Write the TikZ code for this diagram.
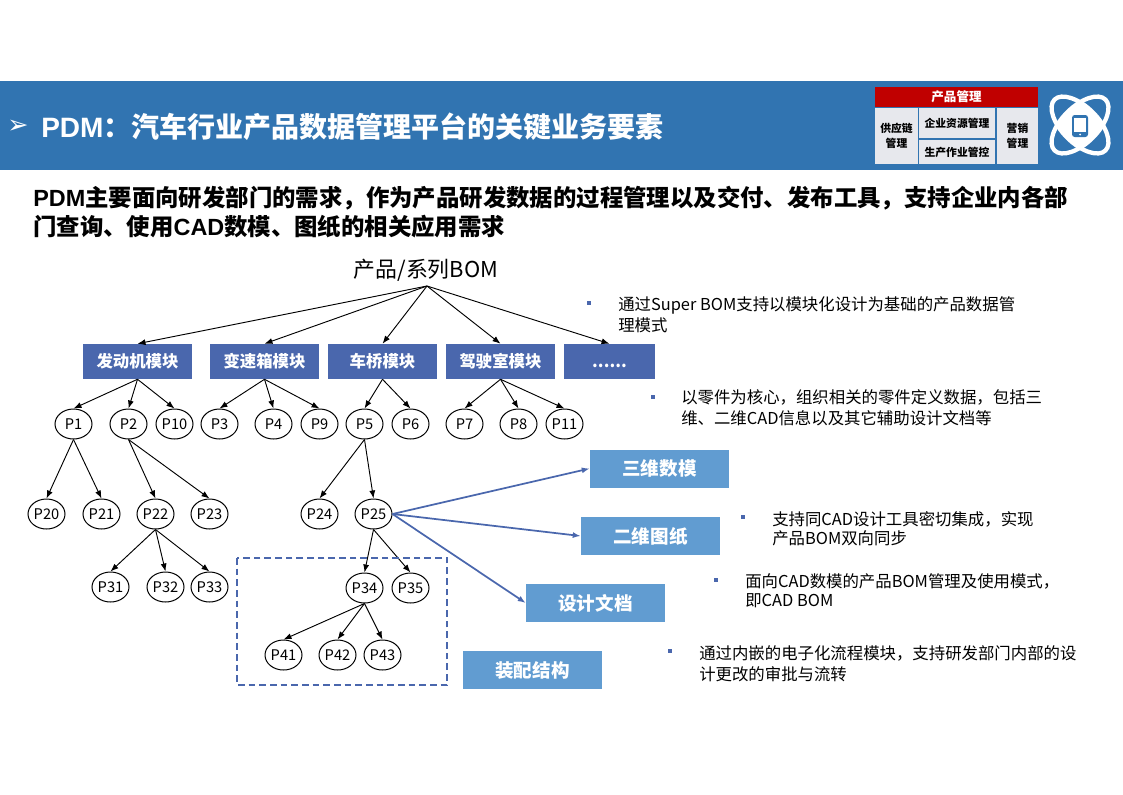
\documentclass[tikz,border=0pt]{standalone}
\usepackage{fontspec}
\usepackage{xcolor}
\setmainfont{Noto Sans CJK SC}
\newfontfamily\arialfont{Liberation Sans}
\newfontfamily\symbfont{DejaVu Sans}
\usetikzlibrary{arrows.meta, shapes.geometric}

\definecolor{bandblue}{HTML}{3174B1}
\definecolor{modblue}{HTML}{4A67AD}
\definecolor{docblue}{HTML}{619CD1}
\definecolor{cellgray}{HTML}{E7E8ED}
\definecolor{headred}{HTML}{C00000}

\newcommand{\px}[2]{\fontsize{#1}{#2}\selectfont}
\newcommand{\ar}[1]{{\arialfont #1}}
% full-width punctuation
\newcommand{\cma}{\char"FF0C\relax}
\newcommand{\cln}{\char"FF1A\relax}

\tikzset{
	part/.style={draw, ellipse, line width=0.75pt, minimum width=37*0.75pt, minimum height=30*0.75pt, inner sep=0pt, font=\px{11}{12}},
	module/.style={fill=modblue, text=white, minimum width=109*0.75pt, minimum height=35*0.75pt, inner sep=0pt, text depth=2.2pt, font=\px{12.3}{14}\bfseries},
	docbox/.style={fill=docblue, text=white, minimum width=139*0.75pt, minimum height=38*0.75pt, inner sep=0pt, font=\px{13.9}{15}\bfseries},
	cell/.style={fill=cellgray, inner sep=0pt, align=center, font=\px{8.1}{11}\bfseries},
	note/.style={anchor=north west, align=left, inner sep=0pt, font=\px{12.3}{15.7}},
	dot/.style={fill=modblue, minimum size=4.5*0.75pt, inner sep=0pt},
	tree/.style={-{Latex[length=6pt,width=4.5pt]}, line width=0.7pt},
	link/.style={-{Latex[length=6pt,width=4.5pt]}, draw=modblue, line width=1.3pt},
}

\begin{document}
\begin{tikzpicture}[x=0.75pt, y=-0.75pt]
	\useasboundingbox (0,0) rectangle (1123,794);

	% title band
	\fill[bandblue] (0,81) rectangle (1123,170);
	\node[anchor=center, text=white, inner sep=0pt, font=\px{19}{22}\symbfont\bfseries] (arrowmark) at (18,127) {➢};
	\node[anchor=west, text=white, inner sep=0pt, font=\px{21}{24}\bfseries] (title) at (41,127) {\ar{PDM}\cln 汽车行业产品数据管理平台的关键业务要素};

	% small overview block in the band
	\node[fill=headred, text=white, minimum width=163*0.75pt, minimum height=20*0.75pt, inner sep=0pt, font=\px{9.4}{10}\bfseries] (head) at (956.5,97) {产品管理};
	\node[cell, minimum width=43*0.75pt, minimum height=56*0.75pt] (supply) at (896.5,136) {供应链\\管理};
	\node[cell, minimum width=76*0.75pt, minimum height=30*0.75pt] (erp) at (957,123) {企业资源管理};
	\node[cell, minimum width=76*0.75pt, minimum height=24*0.75pt] (mes) at (957,152) {生产作业管控};
	\node[cell, minimum width=41*0.75pt, minimum height=56*0.75pt] (sales) at (1017.5,136) {营销\\管理};

	% atom icon
	\coordinate (atom) at (1080,125);
	\begin{scope}
		\clip[rotate around={45:(atom)}] (atom) ellipse[x radius=36, y radius=18];
		\fill[white, rotate around={-45:(atom)}] (atom) ellipse[x radius=36, y radius=18];
	\end{scope}
	\draw[white, line width=3.2pt, rotate around={45:(atom)}] (atom) ellipse[x radius=36, y radius=18];
	\draw[white, line width=3.2pt, rotate around={-45:(atom)}] (atom) ellipse[x radius=36, y radius=18];
	\fill[bandblue, rounded corners=2pt] (1072,115) rectangle (1088,137);
	\fill[white] (1074,118) rectangle (1086,132);
	\fill[white] (1080,134.5) circle[radius=1];

	% heading
	\node[anchor=north west, align=left, inner sep=0pt, font=\px{17.55}{21.8}\bfseries] (heading) at (33,186) {\ar{PDM}主要面向研发部门的需求\cma 作为产品研发数据的过程管理以及交付、发布工具\cma 支持企业内各部\\门查询、使用\ar{CAD}数模、图纸的相关应用需求};

	% product tree
	\node[inner sep=0pt, font=\px{16.4}{18}] (bom) at (426,270) {产品/系列BOM};
	\coordinate (bomout) at (427,286);

	\node[module] (engine) at (137.5,361.5) {发动机模块};
	\node[module] (gearbox) at (264.5,361.5) {变速箱模块};
	\node[module] (axle) at (382.5,361.5) {车桥模块};
	\node[module] (cab) at (500.5,361.5) {驾驶室模块};
	\node[module, minimum width=91*0.75pt] (more) at (609.5,361.5) {\vphantom{模}......};

	\foreach \p/\x/\y in {P1/73.5/424,P2/128.5/424,P10/174.5/424,P3/219.5/424,P4/273.5/424,P9/319.5/424,
		P5/364.5/424,P6/410.5/424,P7/464.5/424,P8/518.5/424,P11/564.5/424,
		P20/46.5/514,P21/101.5/514,P22/155.5/514,P23/209.5/514,P24/319.5/514,P25/373.5/514,
		P31/110.5/587,P32/165.5/587,P33/209.5/587,P34/364.5/588,P35/410.5/588,
		P41/283.5/655,P42/337.5/655,P43/382.5/655} {
		\node[part] (\p) at (\x,\y) {\p};
	}

	\foreach \m in {engine,gearbox,axle,cab,more} {
		\draw[tree] (bomout) -- (\m.north);
	}
	\foreach \a/\b in {engine/P1,engine/P2,engine/P10,gearbox/P3,gearbox/P4,gearbox/P9,
		axle/P5,axle/P6,cab/P7,cab/P8,cab/P11,
		P1/P20,P1/P21,P2/P22,P2/P23,P22/P31,P22/P32,P22/P33,
		P5/P24,P5/P25,P25/P34,P25/P35,P34/P41,P34/P42,P34/P43} {
		\draw[tree] (\a.south) -- (\b.north);
	}

	% assembly frame
	\draw[modblue, line width=1.2pt, dash pattern=on 5pt off 3pt] (237,558) rectangle (447,685);

	% documents
	\node[docbox] (model) at (659.5,468.5) {三维数模};
	\node[docbox] (drawing) at (650.5,536) {二维图纸};
	\node[docbox] (design) at (595.5,603) {设计文档};
	\node[docbox] (assembly) at (532.5,670) {装配结构};

	\draw[link] (P25.east) -- (model.west);
	\draw[link] (P25.east) -- (drawing.west);
	\draw[link] (P25.east) -- (design.west);

	% notes
	\node[dot] (dot1) at (589,303) {};
	\node[note] (note1) at (618,296.5) {通过Super BOM支持以模块化设计为基础的产品数据管\\理模式};
	\node[dot] (dot2) at (653,397) {};
	\node[note] (note2) at (681,389) {以零件为核心\cma 组织相关的零件定义数据\cma 包括三\\维、二维CAD信息以及其它辅助设计文档等};
	\node[dot] (dot3) at (743,517) {};
	\node[note, font=\px{12.3}{14.5}] (note3) at (772,511) {支持同CAD设计工具密切集成\cma 实现\\产品BOM双向同步};
	\node[dot] (dot4) at (716,580) {};
	\node[note, font=\px{12.3}{14.5}] (note4) at (745,573) {面向CAD数模的产品BOM管理及使用模式\cma\\即CAD BOM};
	\node[dot] (dot5) at (670,651) {};
	\node[note] (note5) at (699,645) {通过内嵌的电子化流程模块\cma 支持研发部门内部的设\\计更改的审批与流转};
\end{tikzpicture}
\end{document}
